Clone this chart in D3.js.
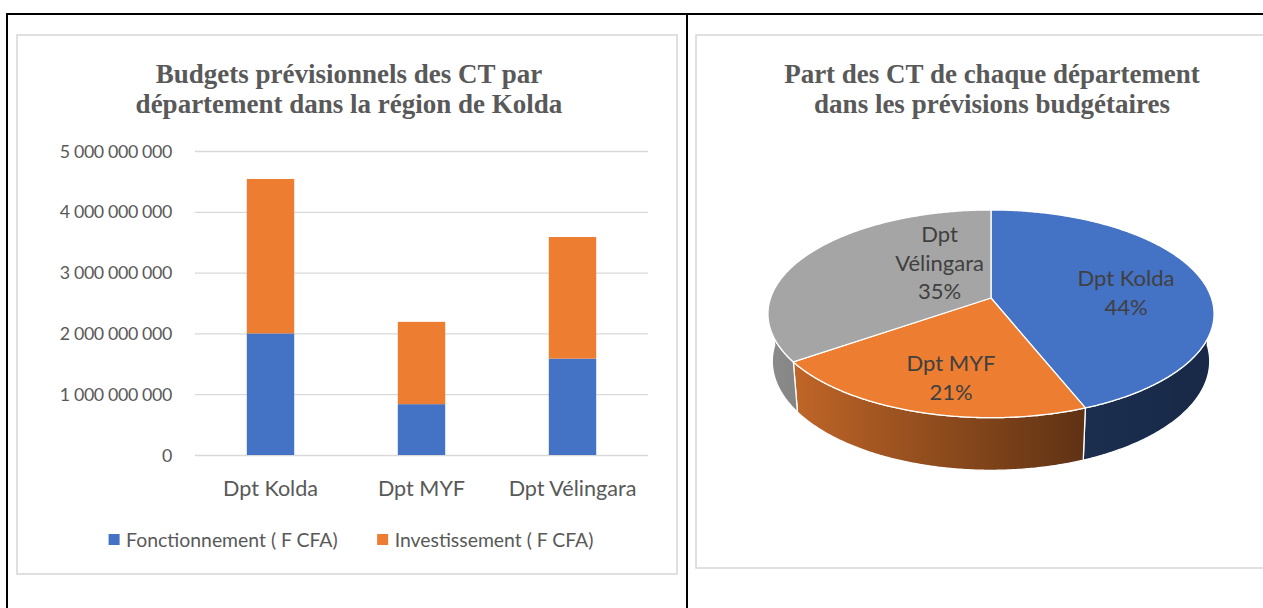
<!DOCTYPE html>
<html><head><meta charset="utf-8">
<script src="https://cdn.jsdelivr.net/npm/d3@7"></script>
<style>html,body{margin:0;padding:0;background:#fff;} svg{display:block;}</style>
</head><body>
<svg id="c" width="1263" height="608"></svg>
<script>
// ---------- data ----------
const categories = ["Dpt Kolda", "Dpt MYF", "Dpt Vélingara"];
const fonctionnement = [2.00e9, 0.836e9, 1.585e9];
const investissement = [2.54e9, 1.354e9, 2.00e9];
const seriesNames = ["Fonctionnement ( F CFA)", "Investissement ( F CFA)"];
const yTicks = [0, 1e9, 2e9, 3e9, 4e9, 5e9];
const pieNames = [["Dpt Kolda"], ["Dpt MYF"], ["Dpt", "Vélingara"]];
const barTitle = ["Budgets prévisionnels des CT par", "département dans la région de Kolda"];
const pieTitle = ["Part des CT de chaque département", "dans les prévisions budgétaires"];

// ---------- style ----------
const seriesColors = ["#4472C4", "#ED7D31"];
const pieColors = ["#4472C4", "#ED7D31", "#A5A5A5"];
const textGray = "#595959";
const sans = "Lato, 'Open Sans', sans-serif";
const serif = "'Liberation Serif', 'Times New Roman', serif";

const svg = d3.select("#c");

// ---------- frames ----------
svg.append("rect").attr("x", 17).attr("y", 35).attr("width", 660).attr("height", 539)
  .attr("fill", "none").attr("stroke", "#d9d9d9").attr("stroke-width", 1.6);
svg.append("rect").attr("x", 696).attr("y", 35).attr("width", 640).attr("height", 533)
  .attr("fill", "none").attr("stroke", "#d9d9d9").attr("stroke-width", 1.6);
svg.append("line").attr("x1", 6).attr("x2", 1263).attr("y1", 14).attr("y2", 14).attr("stroke", "#000").attr("stroke-width", 2);
svg.append("line").attr("x1", 7).attr("x2", 7).attr("y1", 13).attr("y2", 608).attr("stroke", "#000").attr("stroke-width", 2);
svg.append("line").attr("x1", 687).attr("x2", 687).attr("y1", 13).attr("y2", 608).attr("stroke", "#000").attr("stroke-width", 2);

// ---------- titles ----------
function title(lines, cx) {
  svg.append("g").selectAll("text").data(lines).join("text")
    .attr("x", cx).attr("y", (d, i) => 83 + i * 29.5)
    .attr("text-anchor", "middle").attr("font-family", serif).attr("font-weight", "bold")
    .attr("font-size", 27).attr("fill", textGray).text(d => d);
}
title(barTitle, 349);
title(pieTitle, 992);

// ---------- bar chart ----------
const x = d3.scaleBand().domain(categories).range([195, 648]).paddingInner(0.686).paddingOuter(0.343);
const y = d3.scaleLinear().domain([0, 5e9]).range([455, 151]);
const loc = d3.formatLocale({decimal: ",", thousands: " ", grouping: [3], currency: ["", ""]});
const fmt = loc.format(",.0f");

const yAxis = svg.append("g").attr("transform", "translate(195,0)")
  .call(d3.axisLeft(y).tickValues(yTicks).tickSize(-453).tickPadding(23).tickFormat(fmt));
yAxis.select(".domain").remove();
yAxis.selectAll("line").attr("stroke", "#d9d9d9").attr("stroke-width", 1.3);
yAxis.selectAll("text").attr("font-family", sans).attr("font-size", 17.8).attr("letter-spacing", "-0.35px")
  .attr("fill", textGray).attr("dy", "0.34em");

const rows = categories.map((c, i) => ({cat: c, f: fonctionnement[i], inv: investissement[i]}));
const stack = d3.stack().keys(["f", "inv"])(rows);
svg.append("g").selectAll("g").data(stack).join("g")
  .attr("fill", (d, i) => seriesColors[i])
  .selectAll("rect").data(d => d).join("rect")
  .attr("x", d => x(d.data.cat)).attr("width", x.bandwidth())
  .attr("y", d => y(d[1])).attr("height", d => y(d[0]) - y(d[1]));

const xAxis = svg.append("g").attr("transform", "translate(0,455)")
  .call(d3.axisBottom(x).tickSize(0).tickPadding(25.5));
xAxis.select(".domain").remove();
xAxis.selectAll("text").attr("font-family", sans).attr("font-size", 21.6).attr("fill", textGray);

// legend
const leg = svg.append("g");
let lx = 0;
seriesNames.forEach((n, i) => {
  const g = leg.append("g").attr("transform", `translate(${lx},0)`);
  g.append("rect").attr("x", 0).attr("y", -6).attr("width", 11).attr("height", 11).attr("fill", seriesColors[i]);
  const t = g.append("text").attr("x", 17.5).attr("y", 0).attr("dy", "0.35em")
    .attr("font-family", sans).attr("font-size", 19.4).attr("fill", textGray).text(n);
  lx += 17.5 + t.node().getComputedTextLength() + 39.5;
});
const legW = lx - 39.5;
leg.attr("transform", `translate(${351 - legW / 2},540)`);

// ---------- 3D pie ----------
const totals = categories.map((c, i) => fonctionnement[i] + investissement[i]);
const sum = d3.sum(totals);
const pieData = categories.map((c, i) => ({name: pieNames[i], value: totals[i], share: totals[i] / sum, color: pieColors[i]}));
const arcs = d3.pie().sort(null).value(d => d.value)(pieData);

const P = {cx: 991, cy: 298, F: 1283.8, D: 5.824, tilt: 27.4 * Math.PI / 180, H: 0.245};
const sa = Math.sin(P.tilt), ca = Math.cos(P.tilt);
function proj(theta, r, level) {
  const X = r * Math.sin(theta), Z = r * Math.cos(theta), Y = level;
  const yc = Z * sa + Y * ca, d = P.D + Z * ca - Y * sa;
  return [P.cx + P.F * X / d, P.cy - P.F * yc / d];
}
function rim(a, b, level) {
  const n = Math.max(2, Math.ceil((b - a) / 0.01));
  return d3.range(n + 1).map(k => proj(a + (b - a) * k / n, 1, level));
}
const line = d3.line();
const defs = svg.append("defs");
const xL = P.cx - 223, xR = P.cx + 223;
const shade = [[0, 0.85], [0.35, 0.62], [0.71, 0.4], [1, 0.36]];
arcs.forEach((a, i) => {
  const base = d3.rgb(a.data.color);
  const g = defs.append("linearGradient").attr("id", "side" + i).attr("gradientUnits", "userSpaceOnUse")
    .attr("x1", xL).attr("x2", xR).attr("y1", 0).attr("y2", 0);
  shade.forEach(([o, k]) => g.append("stop").attr("offset", o)
    .attr("stop-color", d3.rgb(base.r * k, base.g * k, base.b * k).formatHex()));
});

const pieG = svg.append("g");
// sides
pieG.selectAll("path.side").data(arcs).join("path").attr("class", "side")
  .attr("d", a => {
    const s = Math.max(a.startAngle, Math.PI / 2), e = Math.min(a.endAngle, 3 * Math.PI / 2);
    if (s >= e) return null;
    const pts = rim(s, e, 0).concat(rim(s, e, -P.H).reverse());
    return line(pts) + "Z";
  })
  .attr("fill", (a, i) => `url(#side${i})`).attr("stroke", "#fff").attr("stroke-width", 1.3).attr("stroke-linejoin", "round");
// tops
pieG.selectAll("path.top").data(arcs).join("path").attr("class", "top")
  .attr("d", a => line([proj(0, 0, 0)].concat(rim(a.startAngle, a.endAngle, 0))) + "Z")
  .attr("fill", a => a.data.color).attr("stroke", "#fff").attr("stroke-width", 1.3).attr("stroke-linejoin", "round");

// labels
const labelPlace = [{r: 0.62, deg: 85}, {r: 0.72, deg: 193}, {r: 0.44, deg: 326}];
const pct = d3.format(".0%");
arcs.forEach((a, i) => {
  const lines = a.data.name.concat([pct(a.data.share)]);
  const [px, py] = proj(labelPlace[i].deg * Math.PI / 180, labelPlace[i].r, 0);
  const lh = 28.5;
  pieG.append("g").selectAll("text").data(lines).join("text")
    .attr("x", px).attr("y", (d, k) => py + (k - (lines.length - 1) / 2) * lh)
    .attr("dy", "0.35em").attr("text-anchor", "middle")
    .attr("font-family", sans).attr("font-size", 22).attr("fill", "#404040").text(d => d);
});
</script>
</body></html>
